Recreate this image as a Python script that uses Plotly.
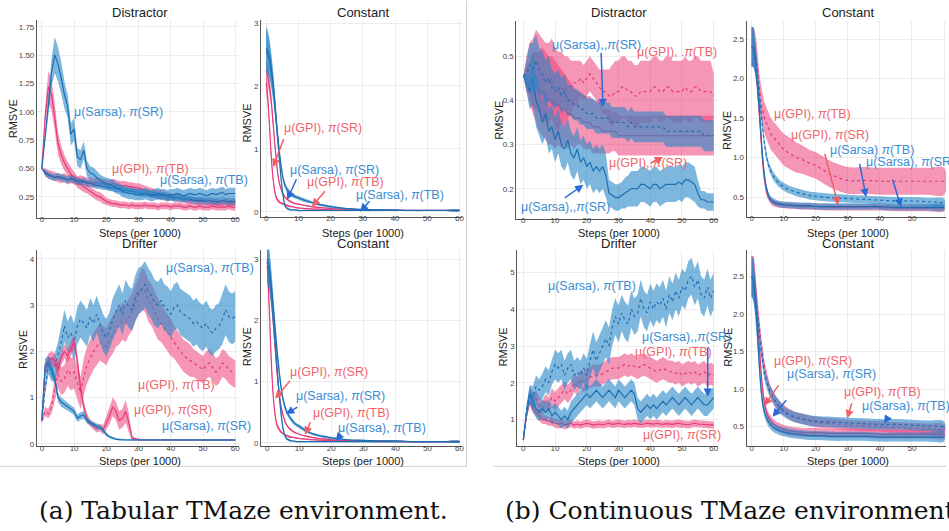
import plotly.graph_objects as go

W, H = 949, 531

# ---------------- data ----------------
X61 = list(range(61))
CX = [0, 0.5, 1, 1.5, 2, 2.5, 3, 3.5, 4, 4.5, 5, 5.5, 6, 7, 8, 9, 10, 12, 14, 16, 18, 20, 25, 30, 35, 40, 45, 50, 55, 60]

# (a) Tabular - Distractor
a1_sarsa_sr = [0.50,0.75,1.05,1.35,1.50,1.42,1.30,1.15,1.05,0.80,
               0.85,0.60,0.58,0.66,0.50,0.46,0.45,0.42,0.40,0.38,
               0.37,0.36,0.35,0.33,0.32,0.30,0.29,0.28,0.28,0.27,
               0.27,0.27,0.28,0.27,0.26,0.27,0.28,0.27,0.27,0.26,
               0.27,0.27,0.28,0.27,0.26,0.27,0.28,0.27,0.27,0.28,
               0.27,0.26,0.27,0.28,0.27,0.28,0.29,0.27,0.28,0.28,0.28]
a1_sarsa_sr_w = [0.00,0.04,0.08,0.12,0.16,0.15,0.14,0.12,0.10,0.10,
                 0.10,0.08,0.08,0.08,0.07,0.06,0.06,0.06,0.05,0.05,
                 0.05,0.05,0.05,0.05,0.05,0.05,0.05,0.05,0.05,0.05,
                 0.05,0.05,0.05,0.05,0.05,0.05,0.05,0.05,0.05,0.05,
                 0.05,0.05,0.05,0.05,0.05,0.05,0.05,0.05,0.05,0.05,
                 0.05,0.05,0.05,0.05,0.05,0.05,0.05,0.05,0.05,0.05,0.05]
a1_gpi_sr = [0.50,0.95,1.22,1.15,0.95,0.72,0.62,0.55,0.50,0.45,
             0.42,0.38,0.36,0.34,0.32,0.30,0.28,0.26,0.25,0.23,
             0.21,0.20,0.19,0.19,0.18,0.18,0.18,0.17,0.18,0.17,
             0.17,0.17,0.18,0.17,0.17,0.17,0.16,0.17,0.17,0.17,
             0.16,0.17,0.17,0.17,0.16,0.16,0.17,0.16,0.16,0.17,
             0.16,0.16,0.16,0.17,0.16,0.16,0.16,0.16,0.17,0.16,0.16]
a1_gpi_sr_w = [0.00,0.08,0.14,0.14,0.12,0.10,0.08,0.07,0.06,0.06,
               0.05,0.05,0.05,0.05,0.04,0.04,0.04,0.04,0.04,0.04,
               0.03,0.03,0.03,0.03,0.03,0.03,0.03,0.03,0.03,0.03,
               0.03,0.03,0.03,0.03,0.03,0.03,0.03,0.03,0.03,0.03,
               0.03,0.03,0.03,0.03,0.03,0.03,0.03,0.03,0.03,0.03,
               0.03,0.03,0.03,0.03,0.03,0.03,0.03,0.03,0.03,0.03,0.03]
a1_gpi_tb = [0.50,0.47,0.45,0.44,0.43,0.42,0.41,0.42,0.40,0.41,
             0.40,0.39,0.40,0.39,0.38,0.38,0.37,0.38,0.37,0.37,
             0.36,0.36,0.37,0.36,0.35,0.35,0.35,0.34,0.34,0.33,
             0.33,0.32,0.31,0.30,0.29,0.28,0.27,0.27,0.26,0.25,
             0.25,0.24,0.24,0.23,0.23,0.22,0.22,0.22,0.21,0.21,
             0.21,0.21,0.20,0.21,0.20,0.20,0.20,0.21,0.20,0.20,0.20]
a1_gpi_tb_w = [0.00,0.03,0.04,0.04,0.04,0.04,0.04,0.04,0.04,0.04,
               0.04,0.04,0.04,0.04,0.04,0.04,0.04,0.04,0.04,0.04,
               0.04,0.04,0.04,0.04,0.04,0.04,0.04,0.04,0.04,0.04,
               0.04,0.04,0.04,0.04,0.04,0.04,0.04,0.04,0.04,0.04,
               0.03,0.03,0.03,0.03,0.03,0.03,0.03,0.03,0.03,0.03,
               0.03,0.03,0.03,0.03,0.03,0.03,0.03,0.03,0.03,0.03,0.03]
a1_sarsa_tb = [0.50,0.46,0.44,0.43,0.42,0.43,0.42,0.41,0.40,0.41,
               0.40,0.39,0.38,0.39,0.37,0.37,0.36,0.35,0.35,0.34,
               0.34,0.33,0.33,0.32,0.32,0.31,0.31,0.30,0.30,0.29,
               0.29,0.28,0.28,0.28,0.27,0.27,0.26,0.26,0.26,0.25,
               0.25,0.24,0.24,0.24,0.23,0.23,0.23,0.22,0.22,0.22,
               0.22,0.21,0.22,0.21,0.21,0.21,0.22,0.21,0.21,0.21,0.21]
a1_sarsa_tb_w = [0.00,0.03,0.03,0.03,0.03,0.03,0.03,0.03,0.03,0.03,
                 0.03,0.03,0.03,0.03,0.03,0.03,0.03,0.03,0.03,0.03,
                 0.03,0.03,0.03,0.03,0.03,0.03,0.03,0.03,0.03,0.03,
                 0.03,0.03,0.03,0.03,0.03,0.03,0.03,0.03,0.03,0.03,
                 0.03,0.03,0.03,0.03,0.03,0.03,0.03,0.03,0.03,0.03,
                 0.03,0.03,0.03,0.03,0.03,0.03,0.03,0.03,0.03,0.03,0.03]

# (a) Tabular - Constant (top)
a2_gpi_sr = [2.05,1.80,1.40,0.95,0.60,0.38,0.25,0.19,0.16,0.14,0.13,0.12,0.11,0.09,0.08,0.07,0.06,0.05,0.045,0.04,0.035,0.03,0.025,0.02,0.02,0.02,0.02,0.02,0.02,0.02]
a2_gpi_sr_w = [0.15,0.13,0.10,0.08,0.06,0.05,0.04,0.03,0.03,0.02,0.02,0.02,0.02,0.02,0.01,0.01,0.01,0.01,0.01,0.01,0.01,0.01,0.01,0.01,0.01,0.01,0.01,0.01,0.01,0.01]
a2_gpi_tb = [2.25,2.15,2.00,1.80,1.50,1.20,0.90,0.65,0.48,0.38,0.31,0.26,0.22,0.18,0.15,0.13,0.12,0.10,0.08,0.07,0.06,0.05,0.04,0.03,0.03,0.025,0.02,0.02,0.02,0.02]
a2_gpi_tb_w = [0.18,0.16,0.14,0.12,0.10,0.08,0.06,0.05,0.04,0.03,0.03,0.02,0.02,0.02,0.02,0.01,0.01,0.01,0.01,0.01,0.01,0.01,0.01,0.01,0.01,0.01,0.01,0.01,0.01,0.01]
a2_sarsa_sr = [2.55,2.50,2.40,2.25,2.05,1.80,1.50,1.20,0.90,0.60,0.35,0.18,0.08,0.04,0.03,0.03,0.02,0.02,0.02,0.02,0.02,0.02,0.02,0.02,0.02,0.02,0.02,0.02,0.02,0.02]
a2_sarsa_sr_w = [0.35,0.33,0.30,0.26,0.22,0.18,0.14,0.10,0.08,0.06,0.04,0.03,0.02,0.02,0.01,0.01,0.01,0.01,0.01,0.01,0.01,0.01,0.01,0.01,0.01,0.01,0.01,0.01,0.01,0.01]
a2_sarsa_tb = [2.60,2.55,2.45,2.30,2.10,1.85,1.55,1.25,1.00,0.78,0.60,0.48,0.40,0.32,0.27,0.24,0.22,0.18,0.15,0.12,0.10,0.08,0.05,0.035,0.03,0.025,0.02,0.02,0.02,0.02]
a2_sarsa_tb_w = [0.35,0.33,0.30,0.26,0.22,0.18,0.14,0.10,0.08,0.07,0.06,0.05,0.05,0.04,0.04,0.03,0.03,0.03,0.02,0.02,0.02,0.02,0.01,0.01,0.01,0.01,0.01,0.01,0.01,0.01]

# (a) Tabular - Drifter
a3_sarsa_tb = [0.50,1.20,1.70,1.60,1.65,1.90,2.20,2.55,2.30,2.40,
               2.20,2.55,2.70,2.60,2.50,2.75,2.60,2.80,2.60,2.40,
               2.30,2.45,2.70,2.85,3.00,2.80,3.10,2.95,2.90,3.15,
               3.30,3.35,3.45,3.30,3.20,3.05,3.00,3.10,2.95,2.90,
               2.80,2.95,3.00,2.85,2.80,2.75,2.70,2.60,2.65,2.55,
               2.50,2.60,2.45,2.40,2.50,2.55,2.70,2.90,2.75,2.70,2.75]
a3_sarsa_tb_w = [0.05,0.15,0.20,0.25,0.30,0.30,0.35,0.35,0.35,0.40,
                 0.40,0.40,0.40,0.40,0.40,0.40,0.40,0.40,0.40,0.40,
                 0.40,0.40,0.45,0.45,0.45,0.45,0.45,0.45,0.45,0.50,
                 0.50,0.50,0.50,0.50,0.50,0.50,0.50,0.50,0.50,0.50,
                 0.50,0.50,0.50,0.50,0.50,0.50,0.50,0.50,0.50,0.50,
                 0.50,0.50,0.50,0.50,0.50,0.50,0.55,0.55,0.55,0.55,0.55]
a3_gpi_tb = [0.50,0.70,0.65,0.80,1.20,1.50,1.35,1.40,1.60,1.50,
             1.55,1.30,1.10,1.45,1.70,1.85,2.00,2.10,2.20,2.15,
             2.10,2.25,2.35,2.50,2.55,2.65,2.60,2.75,2.85,3.05,
             3.20,3.35,3.30,3.10,3.00,2.85,2.70,2.60,2.50,2.40,
             2.30,2.20,2.10,2.00,1.90,1.85,1.80,1.75,1.70,1.65,
             1.60,1.70,1.75,1.65,1.55,1.60,1.75,1.70,1.60,1.55,1.50]
a3_gpi_tb_w = [0.05,0.10,0.10,0.15,0.25,0.30,0.30,0.30,0.35,0.35,
               0.35,0.35,0.35,0.40,0.40,0.40,0.40,0.40,0.40,0.40,
               0.40,0.40,0.40,0.40,0.40,0.40,0.40,0.40,0.40,0.40,
               0.40,0.45,0.45,0.45,0.45,0.45,0.45,0.40,0.40,0.40,
               0.40,0.35,0.35,0.35,0.35,0.35,0.35,0.30,0.30,0.30,
               0.30,0.30,0.30,0.30,0.30,0.30,0.30,0.30,0.30,0.30,0.30]
a3_gpi_sr = [0.50,1.60,1.80,1.85,1.80,1.60,1.85,2.00,1.90,2.05,
             2.20,1.80,1.20,0.80,0.55,0.45,0.38,0.32,0.35,0.30,
             0.45,0.60,0.80,0.70,0.50,0.55,0.70,0.45,0.12,0.10,
             0.09,0.08,0.08,0.08,0.08,0.08,0.08,0.08,0.08,0.08,
             0.08,0.08,0.08,0.08,0.08,0.08,0.08,0.08,0.08,0.08,
             0.08,0.08,0.08,0.08,0.08,0.08,0.08,0.08,0.08,0.08,0.08]
a3_gpi_sr_w = [0.02,0.15,0.15,0.15,0.15,0.15,0.15,0.15,0.15,0.15,
               0.15,0.15,0.15,0.12,0.10,0.08,0.08,0.08,0.08,0.10,
               0.15,0.18,0.20,0.20,0.20,0.20,0.25,0.20,0.05,0.03,
               0.02,0.02,0.02,0.02,0.02,0.02,0.02,0.02,0.02,0.02,
               0.02,0.02,0.02,0.02,0.02,0.02,0.02,0.02,0.02,0.02,
               0.02,0.02,0.02,0.02,0.02,0.02,0.02,0.02,0.02,0.02,0.02]
a3_sarsa_sr = [0.50,1.70,1.75,1.60,1.40,1.00,0.90,0.85,0.80,0.75,
               0.70,0.55,0.60,0.62,0.50,0.45,0.42,0.38,0.35,0.30,
               0.20,0.15,0.12,0.10,0.09,0.08,0.08,0.08,0.08,0.08,
               0.08,0.08,0.08,0.08,0.08,0.08,0.08,0.08,0.08,0.08,
               0.08,0.08,0.08,0.08,0.08,0.08,0.08,0.08,0.08,0.08,
               0.08,0.08,0.08,0.08,0.08,0.08,0.08,0.08,0.08,0.08,0.08]
a3_sarsa_sr_w = [0.02,0.15,0.15,0.15,0.12,0.10,0.10,0.10,0.08,0.08,
                 0.08,0.08,0.08,0.08,0.06,0.06,0.06,0.06,0.05,0.05,
                 0.04,0.03,0.03,0.02,0.02,0.02,0.02,0.02,0.02,0.02,
                 0.02,0.02,0.02,0.02,0.02,0.02,0.02,0.02,0.02,0.02,
                 0.02,0.02,0.02,0.02,0.02,0.02,0.02,0.02,0.02,0.02,
                 0.02,0.02,0.02,0.02,0.02,0.02,0.02,0.02,0.02,0.02,0.02]

# (a) Tabular - Constant (bottom)
a4_gpi_sr = [2.90,2.40,1.70,1.10,0.70,0.45,0.30,0.24,0.20,0.17,0.15,0.13,0.12,0.10,0.09,0.08,0.07,0.06,0.05,0.045,0.04,0.035,0.03,0.025,0.02,0.02,0.02,0.02,0.02,0.02]
a4_gpi_sr_w = [0.15,0.14,0.12,0.09,0.07,0.05,0.04,0.03,0.03,0.02,0.02,0.02,0.02,0.02,0.01,0.01,0.01,0.01,0.01,0.01,0.01,0.01,0.01,0.01,0.01,0.01,0.01,0.01,0.01,0.01]
a4_gpi_tb = [2.95,2.80,2.55,2.25,1.90,1.55,1.20,0.92,0.70,0.55,0.44,0.36,0.30,0.23,0.19,0.16,0.14,0.11,0.09,0.07,0.06,0.05,0.04,0.03,0.03,0.025,0.02,0.02,0.02,0.02]
a4_gpi_tb_w = [0.20,0.18,0.16,0.14,0.12,0.10,0.08,0.06,0.05,0.04,0.03,0.03,0.02,0.02,0.02,0.01,0.01,0.01,0.01,0.01,0.01,0.01,0.01,0.01,0.01,0.01,0.01,0.01,0.01,0.01]
a4_sarsa_sr = [2.95,2.85,2.65,2.35,2.00,1.65,1.30,0.95,0.65,0.40,0.22,0.12,0.07,0.04,0.03,0.02,0.02,0.02,0.02,0.02,0.02,0.02,0.02,0.02,0.02,0.02,0.02,0.02,0.02,0.02]
a4_sarsa_sr_w = [0.35,0.33,0.30,0.26,0.22,0.18,0.14,0.10,0.08,0.06,0.04,0.03,0.02,0.02,0.01,0.01,0.01,0.01,0.01,0.01,0.01,0.01,0.01,0.01,0.01,0.01,0.01,0.01,0.01,0.01]
a4_sarsa_tb = [3.00,2.90,2.70,2.45,2.15,1.85,1.55,1.30,1.05,0.85,0.70,0.60,0.52,0.42,0.35,0.30,0.27,0.20,0.15,0.12,0.10,0.08,0.05,0.04,0.03,0.03,0.02,0.02,0.02,0.02]
a4_sarsa_tb_w = [0.35,0.33,0.30,0.26,0.22,0.18,0.14,0.10,0.08,0.07,0.06,0.05,0.05,0.04,0.04,0.03,0.03,0.03,0.02,0.02,0.02,0.02,0.01,0.01,0.01,0.01,0.01,0.01,0.01,0.01]

# (b) Continuous - Distractor
b1_gpi_tb = [0.455,0.46,0.47,0.46,0.47,0.46,0.45,0.44,0.44,0.45,
             0.43,0.42,0.43,0.42,0.43,0.43,0.44,0.44,0.45,0.44,
             0.45,0.46,0.45,0.44,0.43,0.42,0.42,0.41,0.41,0.42,
             0.42,0.43,0.43,0.42,0.42,0.41,0.41,0.42,0.42,0.42,
             0.42,0.43,0.43,0.42,0.42,0.43,0.43,0.42,0.42,0.42,
             0.42,0.43,0.42,0.42,0.43,0.43,0.42,0.42,0.42,0.42,0.41]
b1_gpi_tb_w = [0.00,0.04,0.06,0.08,0.09,0.09,0.09,0.09,0.09,0.09,
               0.09,0.09,0.08,0.08,0.07,0.06,0.05,0.05,0.04,0.04,
               0.04,0.04,0.04,0.04,0.04,0.05,0.05,0.06,0.07,0.07,
               0.07,0.07,0.07,0.07,0.07,0.07,0.07,0.07,0.07,0.07,
               0.07,0.07,0.07,0.07,0.07,0.07,0.07,0.07,0.07,0.07,
               0.07,0.07,0.07,0.07,0.07,0.07,0.07,0.07,0.07,0.07,0.05]
b1_gpi_sr = [0.455,0.45,0.44,0.44,0.43,0.42,0.42,0.41,0.40,0.40,
             0.39,0.39,0.38,0.38,0.37,0.37,0.36,0.36,0.36,0.35,
             0.35,0.35,0.34,0.34,0.34,0.33,0.33,0.33,0.33,0.33,
             0.32,0.32,0.32,0.32,0.32,0.32,0.32,0.32,0.32,0.32,
             0.32,0.32,0.32,0.32,0.32,0.32,0.32,0.32,0.32,0.32,
             0.32,0.32,0.32,0.32,0.32,0.32,0.32,0.32,0.32,0.32,0.32]
b1_gpi_sr_w = [0.00,0.03,0.05,0.07,0.08,0.09,0.10,0.10,0.10,0.10,
               0.10,0.09,0.09,0.08,0.08,0.07,0.07,0.06,0.06,0.06,
               0.06,0.06,0.06,0.06,0.06,0.05,0.05,0.05,0.045,0.045,
               0.045,0.045,0.045,0.045,0.045,0.045,0.045,0.045,0.045,0.045,
               0.045,0.045,0.045,0.045,0.045,0.045,0.045,0.045,0.045,0.045,
               0.045,0.045,0.045,0.045,0.045,0.045,0.045,0.045,0.045,0.045,0.045]
b1_sarsa_sr = [0.455,0.46,0.48,0.47,0.49,0.47,0.46,0.44,0.45,0.43,
               0.42,0.43,0.41,0.42,0.40,0.40,0.39,0.39,0.38,0.38,
               0.37,0.37,0.37,0.36,0.36,0.36,0.36,0.36,0.35,0.35,
               0.35,0.35,0.35,0.34,0.35,0.34,0.34,0.34,0.34,0.34,
               0.34,0.34,0.34,0.34,0.34,0.33,0.33,0.33,0.33,0.33,
               0.33,0.33,0.33,0.33,0.33,0.33,0.33,0.32,0.32,0.32,0.32]
b1_sarsa_sr_w = [0.00,0.03,0.05,0.06,0.06,0.05,0.05,0.05,0.05,0.04,
                 0.04,0.04,0.04,0.04,0.035,0.035,0.035,0.035,0.035,0.035,
                 0.035,0.035,0.035,0.035,0.035,0.035,0.035,0.035,0.035,0.035,
                 0.035,0.035,0.035,0.035,0.035,0.035,0.035,0.035,0.035,0.035,
                 0.035,0.035,0.035,0.035,0.035,0.035,0.035,0.035,0.035,0.035,
                 0.035,0.035,0.035,0.035,0.035,0.035,0.035,0.035,0.035,0.035,0.035]
b1_sarsa_tb = [0.455,0.44,0.42,0.45,0.40,0.38,0.35,0.37,0.33,0.34,
               0.31,0.33,0.30,0.29,0.31,0.28,0.27,0.29,0.26,0.27,
               0.25,0.26,0.24,0.25,0.24,0.25,0.23,0.19,0.185,0.18,
               0.18,0.185,0.19,0.195,0.20,0.20,0.20,0.21,0.21,0.205,
               0.20,0.21,0.21,0.20,0.205,0.21,0.21,0.21,0.21,0.215,
               0.21,0.22,0.22,0.215,0.21,0.19,0.175,0.175,0.17,0.17,0.17]
b1_sarsa_tb_w = [0.00,0.02,0.04,0.06,0.06,0.06,0.05,0.05,0.05,0.05,
                 0.05,0.05,0.05,0.05,0.05,0.05,0.05,0.05,0.05,0.05,
                 0.05,0.05,0.05,0.05,0.05,0.05,0.05,0.03,0.03,0.03,
                 0.03,0.03,0.035,0.035,0.04,0.04,0.04,0.04,0.04,0.04,
                 0.04,0.04,0.04,0.04,0.04,0.04,0.04,0.04,0.04,0.04,
                 0.04,0.04,0.04,0.04,0.04,0.03,0.02,0.02,0.02,0.02,0.02]

# (b) Continuous - Constant (top)
b2_gpi_tb = [2.40,2.40,2.35,2.25,2.05,1.85,1.70,1.60,1.50,1.45,1.40,1.35,1.30,1.25,1.20,1.15,1.10,1.05,1.00,0.97,0.93,0.90,0.78,0.71,0.71,0.70,0.70,0.70,0.70,0.70]
b2_gpi_tb_w = [0.25,0.25,0.25,0.23,0.22,0.20,0.20,0.20,0.20,0.20,0.20,0.20,0.20,0.20,0.20,0.20,0.20,0.20,0.19,0.18,0.17,0.17,0.17,0.17,0.17,0.17,0.17,0.17,0.17,0.17]
b2_gpi_sr = [2.40,2.40,2.30,2.10,1.80,1.50,1.20,0.92,0.72,0.60,0.52,0.48,0.45,0.42,0.41,0.40,0.40,0.39,0.39,0.38,0.38,0.38,0.37,0.37,0.37,0.37,0.36,0.36,0.36,0.36]
b2_gpi_sr_w = [0.25,0.25,0.22,0.18,0.14,0.10,0.08,0.06,0.05,0.05,0.04,0.04,0.04,0.04,0.04,0.04,0.04,0.04,0.04,0.04,0.04,0.04,0.04,0.04,0.04,0.04,0.04,0.04,0.04,0.04]
b2_sarsa_tb = [2.40,2.40,2.30,2.15,1.95,1.75,1.55,1.35,1.18,1.05,0.95,0.88,0.83,0.75,0.70,0.66,0.63,0.59,0.56,0.54,0.52,0.51,0.49,0.48,0.47,0.46,0.45,0.45,0.44,0.43]
b2_sarsa_tb_w = [0.25,0.25,0.22,0.18,0.14,0.10,0.08,0.07,0.06,0.06,0.05,0.05,0.05,0.05,0.05,0.05,0.05,0.05,0.05,0.05,0.05,0.05,0.05,0.05,0.05,0.05,0.05,0.05,0.05,0.05]
b2_sarsa_sr = [2.40,2.40,2.30,2.10,1.85,1.55,1.25,0.98,0.78,0.64,0.56,0.50,0.47,0.44,0.42,0.41,0.40,0.40,0.39,0.39,0.39,0.38,0.38,0.38,0.38,0.38,0.37,0.37,0.37,0.37]
b2_sarsa_sr_w = [0.25,0.25,0.22,0.18,0.14,0.10,0.08,0.06,0.05,0.05,0.04,0.04,0.04,0.04,0.04,0.04,0.04,0.04,0.04,0.04,0.04,0.04,0.04,0.04,0.04,0.04,0.04,0.04,0.04,0.04]

# (b) Continuous - Drifter
b3_sarsa_tb = [0.45,1.20,1.70,1.60,1.90,1.80,1.90,2.10,2.00,2.30,
               2.50,2.40,2.50,2.20,2.40,2.50,2.20,2.30,2.20,2.40,
               2.20,2.60,2.90,2.60,2.80,3.00,3.20,3.00,3.50,3.80,
               3.60,3.90,3.70,3.60,4.00,3.80,3.90,4.30,4.00,3.90,
               4.20,4.00,4.20,4.10,4.30,4.00,4.40,4.20,4.50,4.30,
               4.60,4.50,4.80,4.90,4.60,4.80,4.40,4.30,4.60,4.30,4.50]
b3_sarsa_tb_w = [0.05,0.20,0.25,0.30,0.30,0.30,0.35,0.35,0.35,0.35,
                 0.40,0.40,0.40,0.40,0.40,0.40,0.40,0.40,0.40,0.40,
                 0.45,0.45,0.50,0.50,0.50,0.50,0.50,0.50,0.50,0.50,
                 0.50,0.50,0.50,0.50,0.50,0.50,0.50,0.50,0.50,0.50,
                 0.50,0.50,0.50,0.50,0.50,0.50,0.50,0.50,0.50,0.50,
                 0.50,0.50,0.50,0.50,0.50,0.50,0.50,0.50,0.50,0.50,0.50]
b3_gpi_tb = [0.45,1.20,1.70,1.50,1.60,1.40,1.30,1.50,1.40,1.60,
             1.50,1.60,1.70,1.80,1.70,1.80,2.00,1.90,2.10,2.00,
             2.10,2.15,2.20,2.20,2.20,2.25,2.30,2.35,2.40,2.40,
             2.40,2.45,2.50,2.45,2.50,2.45,2.40,2.45,2.50,2.45,
             2.40,2.35,2.30,2.35,2.40,2.35,2.30,2.30,2.25,2.30,
             2.20,2.25,2.30,2.25,2.30,2.20,2.25,2.30,2.20,2.25,2.20]
b3_gpi_tb_w = [0.05,0.10,0.15,0.20,0.20,0.20,0.20,0.20,0.20,0.25,
               0.25,0.25,0.25,0.25,0.25,0.25,0.25,0.25,0.25,0.25,
               0.30,0.30,0.30,0.30,0.30,0.30,0.30,0.30,0.30,0.30,
               0.30,0.30,0.30,0.30,0.30,0.30,0.30,0.30,0.30,0.30,
               0.30,0.30,0.30,0.30,0.30,0.30,0.30,0.30,0.30,0.30,
               0.30,0.30,0.30,0.30,0.30,0.30,0.30,0.30,0.30,0.30,0.30]
b3_sarsa_sr = [0.45,1.20,1.70,1.50,1.30,1.20,1.30,1.20,1.30,1.10,
               1.20,1.10,1.00,1.10,1.00,1.20,1.30,1.40,1.50,1.60,
               1.70,1.60,1.70,1.80,1.70,1.60,1.70,1.80,1.70,1.60,
               1.80,1.70,1.60,1.70,1.80,1.70,1.30,1.20,1.30,1.40,
               1.30,1.40,1.30,1.40,1.50,1.40,1.50,1.60,1.50,1.40,
               1.50,1.60,1.50,1.40,1.50,1.60,1.50,1.40,1.40,1.50,1.60]
b3_sarsa_sr_w = [0.05,0.15,0.20,0.25,0.25,0.25,0.25,0.25,0.25,0.25,
                 0.25,0.25,0.25,0.25,0.25,0.30,0.30,0.30,0.30,0.30,
                 0.30,0.30,0.30,0.30,0.30,0.30,0.30,0.30,0.30,0.30,
                 0.30,0.30,0.30,0.30,0.30,0.30,0.30,0.30,0.30,0.30,
                 0.30,0.30,0.30,0.30,0.30,0.30,0.30,0.30,0.30,0.30,
                 0.30,0.30,0.30,0.30,0.30,0.30,0.30,0.30,0.30,0.30,0.30]
b3_gpi_sr = [0.45,1.10,1.50,1.30,1.20,1.10,1.00,1.00,0.95,0.95,
             0.90,0.88,0.90,0.85,0.88,0.90,0.85,0.88,0.85,0.88,
             0.90,0.88,0.85,0.87,0.88,0.86,0.88,0.90,0.87,0.88,
             0.90,0.88,0.87,0.89,0.88,0.90,0.88,0.87,0.88,0.90,
             0.89,0.88,0.90,0.88,0.87,0.89,0.88,0.87,0.89,0.90,
             0.88,0.87,0.86,0.88,0.90,0.88,0.87,0.86,0.87,0.86,0.85]
b3_gpi_sr_w = [0.05,0.10,0.12,0.12,0.12,0.12,0.12,0.12,0.12,0.12,
               0.12,0.12,0.12,0.12,0.12,0.10,0.10,0.10,0.10,0.10,
               0.10,0.10,0.10,0.10,0.10,0.10,0.10,0.10,0.10,0.10,
               0.10,0.10,0.10,0.10,0.10,0.10,0.10,0.10,0.10,0.10,
               0.10,0.10,0.10,0.10,0.10,0.10,0.10,0.10,0.10,0.10,
               0.10,0.10,0.10,0.10,0.10,0.10,0.10,0.10,0.10,0.10,0.10]

# (b) Continuous - Constant (bottom)
b4_gpi_sr = [2.50,2.50,2.35,2.10,1.80,1.50,1.20,0.98,0.82,0.72,0.65,0.61,0.58,0.53,0.50,0.48,0.46,0.44,0.43,0.42,0.42,0.42,0.41,0.41,0.41,0.40,0.40,0.40,0.40,0.40]
b4_gpi_sr_w = [0.27,0.27,0.24,0.20,0.15,0.12,0.10,0.08,0.07,0.06,0.06,0.06,0.06,0.06,0.06,0.06,0.06,0.06,0.06,0.06,0.06,0.06,0.06,0.06,0.06,0.06,0.06,0.06,0.06,0.06]
b4_sarsa_sr = [2.50,2.45,2.25,1.95,1.60,1.25,0.98,0.80,0.70,0.63,0.58,0.55,0.52,0.48,0.46,0.44,0.43,0.41,0.40,0.39,0.38,0.38,0.37,0.37,0.37,0.36,0.36,0.36,0.36,0.36]
b4_sarsa_sr_w = [0.27,0.27,0.24,0.20,0.15,0.12,0.10,0.08,0.07,0.06,0.06,0.06,0.06,0.06,0.06,0.06,0.06,0.06,0.06,0.06,0.06,0.06,0.06,0.06,0.06,0.06,0.06,0.06,0.06,0.06]
b4_gpi_tb = [2.50,2.50,2.40,2.20,2.00,1.80,1.60,1.45,1.30,1.20,1.10,1.02,0.95,0.86,0.80,0.75,0.72,0.66,0.62,0.60,0.58,0.56,0.54,0.52,0.51,0.50,0.49,0.48,0.47,0.46]
b4_gpi_tb_w = [0.27,0.27,0.24,0.20,0.15,0.12,0.10,0.09,0.08,0.08,0.08,0.08,0.08,0.08,0.08,0.08,0.07,0.07,0.07,0.07,0.07,0.07,0.07,0.07,0.07,0.07,0.07,0.07,0.07,0.07]
b4_sarsa_tb = [2.50,2.45,2.30,2.10,1.90,1.70,1.50,1.35,1.20,1.12,1.05,0.99,0.95,0.87,0.80,0.75,0.70,0.65,0.62,0.60,0.58,0.57,0.56,0.55,0.54,0.53,0.53,0.52,0.51,0.50]
b4_sarsa_tb_w = [0.27,0.27,0.24,0.20,0.15,0.12,0.10,0.09,0.08,0.08,0.08,0.08,0.08,0.08,0.08,0.08,0.07,0.07,0.07,0.07,0.07,0.07,0.07,0.07,0.07,0.07,0.07,0.07,0.07,0.07]

panel_titles = ["Distractor", "Constant", "Drifter", "Constant", "Distractor", "Constant", "Drifter", "Constant"]
captions = ["(a) Tabular TMaze environment.", "(b) Continuous TMaze environment."]
x_ticks = [0, 10, 20, 30, 40, 50, 60]
y_ticks = [
    [0.25, 0.50, 0.75, 1.00, 1.25, 1.50, 1.75],
    [0, 1, 2, 3],
    [0, 1, 2, 3, 4],
    [0, 1, 2, 3],
    [0.2, 0.3, 0.4, 0.5],
    [0.5, 1.0, 1.5, 2.0, 2.5],
    [1, 2, 3, 4, 5],
    [0.5, 1.0, 1.5, 2.0, 2.5],
]
y_fmt = [".2f", "d", "d", "d", ".1f", ".1f", "d", ".1f"]

# ---------------- style ----------------
PINK_LINE = "rgb(228,58,122)"
PINK_FILL = "rgba(236,64,122,0.55)"
BLUE_LINE = "rgb(30,110,178)"
BLUE_FILL = "rgba(40,135,200,0.60)"
PINK_TXT = "#f0646e"
BLUE_TXT = "#3c8cd2"
PINK_ARR = "#ef5f66"
BLUE_ARR = "#2a6ad6"
FONT = "Liberation Sans, Arial, sans-serif"

# pixel rectangles (left, right, top, bottom) and axis ranges
rects = [(37, 240, 19, 218), (262, 463, 19, 217), (37, 240, 250, 448), (262, 463, 250, 448),
         (518, 720, 20, 219), (749, 949, 20, 217), (519, 720, 250, 448), (749, 949, 250, 448)]
xr = [(-1.55, 61.24), (-1.55, 60.62), (-1.55, 61.24), (-1.87, 60.62),
      (-2.2, 61.26), (-1.55, 60.62), (-1.88, 61.26), (-1.55, 60.62)]
yr = [(0.066, 1.81), (-0.08, 3.05), (-0.06, 4.2), (-0.06, 3.16),
      (0.132, 0.58), (0.25, 2.73), (0.27, 5.62), (0.235, 2.86)]

series = [
    (1, X61, a1_gpi_tb, a1_gpi_tb_w, "p", "solid", "linear"),
    (1, X61, a1_gpi_sr, a1_gpi_sr_w, "p", "solid", "linear"),
    (1, X61, a1_sarsa_tb, a1_sarsa_tb_w, "b", "solid", "linear"),
    (1, X61, a1_sarsa_sr, a1_sarsa_sr_w, "b", "solid", "linear"),
    (2, CX, a2_gpi_sr, a2_gpi_sr_w, "p", "solid", "spline"),
    (2, CX, a2_gpi_tb, a2_gpi_tb_w, "p", "solid", "spline"),
    (2, CX, a2_sarsa_sr, a2_sarsa_sr_w, "b", "solid", "spline"),
    (2, CX, a2_sarsa_tb, a2_sarsa_tb_w, "b", "solid", "spline"),
    (3, X61, a3_gpi_tb, a3_gpi_tb_w, "p", "dot", "linear"),
    (3, X61, a3_sarsa_tb, a3_sarsa_tb_w, "b", "dot", "linear"),
    (3, X61, a3_gpi_sr, a3_gpi_sr_w, "p", "solid", "linear"),
    (3, X61, a3_sarsa_sr, a3_sarsa_sr_w, "b", "solid", "linear"),
    (4, CX, a4_gpi_sr, a4_gpi_sr_w, "p", "solid", "spline"),
    (4, CX, a4_gpi_tb, a4_gpi_tb_w, "p", "solid", "spline"),
    (4, CX, a4_sarsa_sr, a4_sarsa_sr_w, "b", "solid", "spline"),
    (4, CX, a4_sarsa_tb, a4_sarsa_tb_w, "b", "solid", "spline"),
    (5, X61, b1_gpi_tb, b1_gpi_tb_w, "p", "dot", "linear"),
    (5, X61, b1_gpi_sr, b1_gpi_sr_w, "p", "solid", "linear"),
    (5, X61, b1_sarsa_tb, b1_sarsa_tb_w, "b", "solid", "linear"),
    (5, X61, b1_sarsa_sr, b1_sarsa_sr_w, "b", "dot", "linear"),
    (6, CX, b2_gpi_tb, b2_gpi_tb_w, "p", "dot", "spline"),
    (6, CX, b2_gpi_sr, b2_gpi_sr_w, "p", "solid", "spline"),
    (6, CX, b2_sarsa_tb, b2_sarsa_tb_w, "b", "dot", "spline"),
    (6, CX, b2_sarsa_sr, b2_sarsa_sr_w, "b", "solid", "spline"),
    (7, X61, b3_gpi_sr, b3_gpi_sr_w, "p", "solid", "linear"),
    (7, X61, b3_gpi_tb, b3_gpi_tb_w, "p", "dot", "linear"),
    (7, X61, b3_sarsa_sr, b3_sarsa_sr_w, "b", "solid", "linear"),
    (7, X61, b3_sarsa_tb, b3_sarsa_tb_w, "b", "dot", "linear"),
    (8, CX, b4_gpi_tb, b4_gpi_tb_w, "p", "dot", "spline"),
    (8, CX, b4_gpi_sr, b4_gpi_sr_w, "p", "solid", "spline"),
    (8, CX, b4_sarsa_tb, b4_sarsa_tb_w, "b", "dot", "spline"),
    (8, CX, b4_sarsa_sr, b4_sarsa_sr_w, "b", "solid", "spline"),
]

PI = "<i>π</i>"
labels = [
    (1, "μ(Sarsa), " + PI + "(SR)", 9.3, 1.00, "b"),
    (1, "μ(GPI), " + PI + "(TB)", 21.0, 0.50, "p"),
    (1, "μ(Sarsa), " + PI + "(TB)", 35.9, 0.40, "b"),
    (1, "μ(GPI)," + PI + "(SR)", -1.9, 0.155, "p"),
    (2, "μ(GPI), " + PI + "(SR)", 4.9, 1.33, "p"),
    (2, "μ(Sarsa), " + PI + "(SR)", 6.8, 0.66, "b"),
    (2, "μ(GPI), " + PI + "(TB)", 12.1, 0.47, "p"),
    (2, "μ(Sarsa), " + PI + "(TB)", 27.2, 0.27, "b"),
    (3, "μ(Sarsa), " + PI + "(TB)", 38.0, 3.81, "b"),
    (3, "μ(GPI), " + PI + "(TB)", 29.1, 1.27, "p"),
    (3, "μ(GPI), " + PI + "(SR)", 28.1, 0.73, "p"),
    (3, "μ(Sarsa), " + PI + "(SR)", 36.5, 0.39, "b"),
    (4, "μ(GPI), " + PI + "(SR)", 6.5, 1.16, "p"),
    (4, "μ(Sarsa), " + PI + "(SR)", 8.4, 0.77, "b"),
    (4, "μ(GPI), " + PI + "(TB)", 13.7, 0.49, "p"),
    (4, "μ(Sarsa), " + PI + "(TB)", 21.4, 0.24, "b"),
    (5, "μ(Sarsa),," + PI + "(SR)", 8.5, 0.525, "b"),
    (5, "μ(GPI), ." + PI + "(TB)", 35.2, 0.509, "p"),
    (5, "μ(GPI),," + PI + "(SR)", 26.4, 0.258, "p"),
    (5, "μ(Sarsa),," + PI + "(SR)", -1.3, 0.159, "b"),
    (6, "μ(GPI), " + PI + "(TB)", 6.5, 1.557, "p"),
    (6, "μ(GPI), " + PI + "(SR)", 11.8, 1.28, "p"),
    (6, "μ(Sarsa) " + PI + "(TB)", 23.9, 1.09, "b"),
    (6, "μ(Sarsa), " + PI + "(SR)", 35.1, 0.94, "b"),
    (7, "μ(Sarsa), " + PI + "(TB)", 7.2, 4.62, "b"),
    (7, "μ(Sarsa),," + PI + "(SR)", 36.8, 3.24, "b"),
    (7, "μ(GPI), " + PI + "(TB)", 34.6, 2.84, "p"),
    (7, "μ(GPI), " + PI + "(SR)", 37.1, 0.57, "p"),
    (8, "μ(GPI), " + PI + "(SR)", 6.5, 1.374, "p"),
    (8, "μ(Sarsa), " + PI + "(SR)", 10.3, 1.20, "b"),
    (8, "μ(GPI), " + PI + "(TB)", 28.3, 0.96, "p"),
    (8, "μ(Sarsa), " + PI + "(TB)", 33.9, 0.78, "b"),
]
arrows = [
    (2, 5.6, 1.18, 2.2, 0.71, "p"),
    (2, 9.6, 0.54, 6.5, 0.19, "b"),
    (2, 18.6, 0.35, 14.2, 0.08, "p"),
    (2, 32.5, 0.19, 29.1, 0.0, "b"),
    (4, 7.5, 1.04, 2.5, 0.72, "p"),
    (4, 9.9, 0.60, 5.9, 0.47, "b"),
    (4, 13.7, 0.36, 11.8, 0.13, "p"),
    (4, 23.3, 0.16, 21.4, 0.03, "b"),
    (5, 24.5, 0.511, 25.1, 0.385, "b"),
    (5, 39.6, 0.256, 44.0, 0.272, "p"),
    (5, 12.6, 0.177, 18.9, 0.209, "b"),
    (6, 22.7, 1.066, 27.0, 0.40, "p"),
    (6, 33.6, 0.94, 35.7, 0.50, "b"),
    (6, 43.8, 0.74, 46.6, 0.374, "b"),
    (7, 58.1, 3.00, 58.1, 1.62, "b"),
    (8, 8.7, 1.07, 4.0, 0.78, "p"),
    (8, 11.2, 0.87, 6.5, 0.63, "b"),
    (8, 31.4, 0.83, 29.8, 0.61, "p"),
    (8, 42.9, 0.65, 41.3, 0.54, "b"),
]

# ---------------- figure ----------------
def fx(px):
    return px / W

def fy(py):
    return 1 - py / H

fig = go.Figure()

for (k, xs, m, w, c, dash, shape) in series:
    lo = [a - b for a, b in zip(m, w)]
    hi = [a + b for a, b in zip(m, w)]
    sfx = "" if k == 1 else str(k)
    fill = PINK_FILL if c == "p" else BLUE_FILL
    line = PINK_LINE if c == "p" else BLUE_LINE
    fig.add_trace(go.Scatter(x=list(xs) + list(xs)[::-1], y=hi + lo[::-1], fill="toself",
                             fillcolor=fill, line=dict(width=0, shape=shape), mode="lines",
                             hoverinfo="skip", showlegend=False, xaxis="x" + sfx, yaxis="y" + sfx))
    fig.add_trace(go.Scatter(x=xs, y=m, mode="lines", showlegend=False,
                             line=dict(color=line, width=1.2, dash=dash, shape=shape),
                             xaxis="x" + sfx, yaxis="y" + sfx))

layout = dict(width=W, height=H, margin=dict(l=0, r=0, t=0, b=0),
              paper_bgcolor="white", plot_bgcolor="white", showlegend=False)
for i in range(8):
    k = i + 1
    sfx = "" if k == 1 else str(k)
    l, r, t, b = rects[i]
    layout["xaxis" + sfx] = dict(domain=[fx(l), fx(r)], range=list(xr[i]), anchor="y" + sfx,
                                 tickvals=x_ticks, showgrid=True, gridcolor="#ececec", gridwidth=1,
                                 zeroline=False, showline=True, linecolor="#555", linewidth=1,
                                 ticks="", ticklabelstandoff=-6,
                                 tickfont=dict(size=8, color="#444", family=FONT))
    layout["yaxis" + sfx] = dict(domain=[fy(b), fy(t)], range=list(yr[i]), anchor="x" + sfx,
                                 tickvals=y_ticks[i], tickformat=y_fmt[i], showgrid=True,
                                 gridcolor="#ececec", gridwidth=1, zeroline=False, showline=True,
                                 linecolor="#555", linewidth=1, ticks="",
                                 tickfont=dict(size=8, color="#444", family=FONT))
fig.update_layout(**layout)

ann = []
title_pos = [(140, 12), (364, 12), (140, 244), (364, 244), (621, 12), (851, 12), (621, 244), (851, 244)]
for i, (px, py) in enumerate(title_pos):
    ann.append(dict(text=panel_titles[i], x=fx(px), y=fy(py), xref="paper", yref="paper",
                    showarrow=False, xanchor="center", yanchor="middle",
                    font=dict(size=13, color="#222", family=FONT)))
xlab_pos = [(140, 233), (364, 233), (140, 463), (364, 463), (621, 233), (851, 233), (621, 463), (851, 463)]
for (px, py) in xlab_pos:
    ann.append(dict(text="Steps (per 1000)", x=fx(px), y=fy(py), xref="paper", yref="paper",
                    showarrow=False, xanchor="center", yanchor="middle",
                    font=dict(size=11, color="#222", family=FONT)))
ylab_pos = [(13, 118), (248, 123), (23, 350), (248, 348), (501, 120), (730, 130), (505, 348), (730, 348)]
for (px, py) in ylab_pos:
    ann.append(dict(text="RMSVE", x=fx(px), y=fy(py), xref="paper", yref="paper", textangle=-90,
                    showarrow=False, xanchor="center", yanchor="middle",
                    font=dict(size=11, color="#222", family=FONT)))

for (k, txt, x, y, c) in labels:
    sfx = "" if k == 1 else str(k)
    ann.append(dict(text=txt, x=x, y=y, xref="x" + sfx, yref="y" + sfx, showarrow=False,
                    xanchor="left", yanchor="middle",
                    font=dict(size=12.5, color=PINK_TXT if c == "p" else BLUE_TXT, family=FONT)))
for (k, tx, ty, hx, hy, c) in arrows:
    sfx = "" if k == 1 else str(k)
    ann.append(dict(text="", x=hx, y=hy, ax=tx, ay=ty, xref="x" + sfx, yref="y" + sfx,
                    axref="x" + sfx, ayref="y" + sfx, showarrow=True, arrowhead=2,
                    arrowsize=1.1, arrowwidth=1.5, arrowcolor=PINK_ARR if c == "p" else BLUE_ARR))

ann.append(dict(text=captions[0], x=fx(37), y=fy(512), xref="paper", yref="paper", showarrow=False,
                xanchor="left", yanchor="middle", font=dict(size=25, color="#111", family="DejaVu Serif")))
ann.append(dict(text=captions[1], x=fx(505), y=fy(512), xref="paper", yref="paper", showarrow=False,
                xanchor="left", yanchor="middle", font=dict(size=25, color="#111", family="DejaVu Serif")))

shapes = [
    dict(type="line", xref="paper", yref="paper", x0=fx(468), x1=fx(468), y0=fy(468), y1=fy(0),
         line=dict(color="#d0d0d0", width=1)),
    dict(type="line", xref="paper", yref="paper", x0=fx(0), x1=fx(468), y0=fy(468), y1=fy(468),
         line=dict(color="#d0d0d0", width=1)),
    dict(type="line", xref="paper", yref="paper", x0=fx(495), x1=fx(949), y0=fy(468), y1=fy(468),
         line=dict(color="#d0d0d0", width=1)),
]
fig.update_layout(annotations=ann, shapes=shapes)

fig.write_html("out.html")
